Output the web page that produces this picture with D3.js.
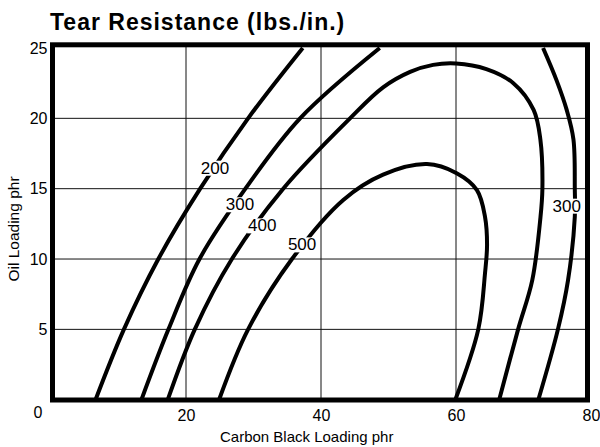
<!DOCTYPE html>
<html>
<head>
<meta charset="utf-8">
<script src="https://cdn.jsdelivr.net/npm/d3@7"></script>
<style>
  body { margin: 0; background: #fff; }
  svg { display: block; font-family: "Liberation Sans", Arial, sans-serif; }
</style>
</head>
<body>
<svg></svg>
<script>
var width = 600;
var height = 447;

// tick values
var xTicks = [20, 40, 60, 80];
var yTicks = [5, 10, 15, 20, 25];
var gridX = [20, 40, 60];
var gridY = [5, 10, 15, 20];

// contour lines: [carbon black, oil]
var c200 = [[6.6, 0], [10.8, 5], [15.9, 10], [22.1, 15], [29.2, 20], [37.3, 25]];
var c300a = [[13.4, 0], [17.4, 5], [22.0, 10], [28.8, 15], [36.9, 20], [48.7, 25]];
var c400 = [[17.3, 0], [21.3, 5], [26.8, 10], [34.4, 15], [44.3, 20], [49.2, 22.2],
  [53.2, 23.3], [56.6, 23.8], [60, 23.9], [64.5, 23.5], [68.5, 22.5], [71.5, 20.6],
  [72.5, 18.5], [72.8, 15], [72.5, 12.9], [71.3, 8.5], [69.2, 5], [66.4, 0]];
var c500 = [[24.9, 0], [29.2, 5], [35.7, 10], [43.3, 14.2], [49.2, 16], [55.7, 16.75],
  [60.1, 16.1], [63.1, 14.9], [64.3, 13], [64.6, 11], [64.3, 9], [63.3, 5], [59.9, 0]];
var c300b = [[72.9, 25], [74.9, 22.7], [76.4, 20.6], [77.4, 18.5], [77.6, 15],
  [77.6, 13], [76.6, 8.5], [75.1, 5], [72.2, 0]];

var contours = [c200, c300a, c400, c500, c300b];

// contour labels
var labelText = ["200", "300", "400", "500", "300"];
var labelAt = [[24.3, 16.5], [28, 13.9], [31.3, 12.4], [37.2, 11.05], [76.4, 13.8]];

var svg = d3.select("svg").attr("width", width).attr("height", height);

var frame = { left: 52.5, right: 587.5, top: 44.8, bottom: 400 };

var xScale = d3.scaleLinear().domain([0, 80]).range([51, 591]);
var yScale = d3.scaleLinear().domain([0, 25]).range([399.7, 48]);

// grid
svg.append("g")
  .selectAll("line")
  .data(gridX)
  .enter()
  .append("line")
  .attr("x1", d => xScale(d))
  .attr("x2", d => xScale(d))
  .attr("y1", frame.top)
  .attr("y2", frame.bottom)
  .attr("stroke", "#111")
  .attr("stroke-width", 1);

svg.append("g")
  .selectAll("line")
  .data(gridY)
  .enter()
  .append("line")
  .attr("x1", frame.left)
  .attr("x2", frame.right)
  .attr("y1", d => yScale(d))
  .attr("y2", d => yScale(d))
  .attr("stroke", "#111")
  .attr("stroke-width", 1);

// contours
var line = d3
  .line()
  .x(d => xScale(d[0]))
  .y(d => yScale(d[1]))
  .curve(d3.curveCatmullRom.alpha(0.5));

svg.append("g")
  .selectAll("path")
  .data(contours)
  .enter()
  .append("path")
  .attr("d", line)
  .attr("fill", "none")
  .attr("stroke", "#000")
  .attr("stroke-width", 4);

// contour labels with white boxes
var lab = svg.append("g")
  .selectAll("g")
  .data(labelText)
  .enter()
  .append("g")
  .attr("transform", (d, i) => "translate(" + xScale(labelAt[i][0]) + "," + yScale(labelAt[i][1]) + ")");

lab.append("rect").attr("fill", "#fff");
lab.append("text")
  .attr("text-anchor", "middle")
  .attr("dy", "0.36em")
  .attr("font-size", 17)
  .attr("fill", "#000")
  .text(d => d);
lab.each(function() {
  var g = d3.select(this);
  var b = g.select("text").node().getBBox();
  g.select("rect")
    .attr("x", b.x - 1)
    .attr("y", b.y + 2)
    .attr("width", b.width + 2)
    .attr("height", b.height - 4);
});

// frame
svg.append("rect")
  .attr("x", frame.left)
  .attr("y", frame.top)
  .attr("width", frame.right - frame.left)
  .attr("height", frame.bottom - frame.top)
  .attr("fill", "none")
  .attr("stroke", "#000")
  .attr("stroke-width", 5);

// axes
var xAxis = svg.append("g")
  .attr("transform", "translate(0," + frame.bottom + ")")
  .call(d3.axisBottom(xScale).tickValues(xTicks).tickSize(0).tickPadding(10));
var yAxis = svg.append("g")
  .attr("transform", "translate(" + frame.left + ",0)")
  .call(d3.axisLeft(yScale).tickValues(yTicks).tickSize(0).tickPadding(5));
[xAxis, yAxis].forEach(function(a) {
  a.select(".domain").remove();
  a.selectAll("text")
    .attr("font-size", 16)
    .attr("font-family", "Liberation Sans, Arial, sans-serif")
    .attr("fill", "#000");
});

svg.append("text")
  .attr("x", 38)
  .attr("y", 418)
  .attr("text-anchor", "middle")
  .attr("font-size", 16)
  .text("0");

// titles
svg.append("text")
  .attr("x", 50)
  .attr("y", 29.5)
  .attr("font-size", 23)
  .attr("font-weight", "bold")
  .attr("letter-spacing", 1)
  .text("Tear Resistance (lbs./in.)");

svg.append("text")
  .attr("x", 306.7)
  .attr("y", 442)
  .attr("text-anchor", "middle")
  .attr("font-size", 15)
  .text("Carbon Black Loading phr");

svg.append("text")
  .attr("transform", "translate(19,229) rotate(-90)")
  .attr("text-anchor", "middle")
  .attr("font-size", 15.5)
  .text("Oil Loading phr");
</script>
</body>
</html>
